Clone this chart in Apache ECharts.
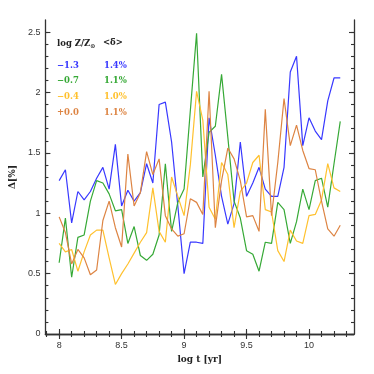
<!DOCTYPE html>
<html>
<head>
<meta charset="UTF-8" />
<script type="text/javascript" src="https://cdn.jsdelivr.net/npm/echarts@6/dist/echarts.min.js"></script>
<title>Delta vs log t</title>
<style>
	html, body { margin: 0; padding: 0; background: #fff; }
	#main { width: 374px; height: 374px; }
</style>
</head>
<body>
<div id="main"></div>
<script type="text/javascript">
	// log t [yr] sampling
	var logT = [8.00, 8.05, 8.10, 8.15, 8.20, 8.25, 8.30, 8.35, 8.40, 8.45,
		8.50, 8.55, 8.60, 8.65, 8.70, 8.75, 8.80, 8.85, 8.90, 8.95,
		9.00, 9.05, 9.10, 9.15, 9.20, 9.25, 9.30, 9.35, 9.40, 9.45,
		9.50, 9.55, 9.60, 9.65, 9.70, 9.75, 9.80, 9.85, 9.90, 9.95,
		10.00, 10.05, 10.10, 10.15, 10.20, 10.25]

	// Delta[%] for each metallicity
	var dZm13 = [1.27, 1.36, 0.92, 1.18, 1.11, 1.18, 1.29, 1.38, 1.20, 1.57,
		1.06, 1.19, 1.10, 1.17, 1.41, 1.25, 1.90, 1.92, 1.59, 1.06,
		0.50, 0.76, 0.76, 0.75, 1.79, 1.48, 1.14, 0.91, 1.08, 1.59,
		1.14, 1.25, 1.38, 1.20, 1.14, 1.14, 1.38, 2.17, 2.30, 1.56,
		1.79, 1.68, 1.61, 1.93, 2.12, 2.12]
	var dZm07 = [0.59, 0.96, 0.47, 0.80, 0.82, 1.10, 1.27, 1.25, 1.16, 1.02,
		1.03, 0.75, 0.89, 0.65, 0.61, 0.66, 0.82, 1.41, 0.85, 1.09,
		1.20, 1.85, 2.49, 1.30, 1.67, 1.72, 2.15, 1.63, 1.10, 0.96,
		0.69, 0.66, 0.52, 0.76, 0.75, 1.09, 1.03, 0.75, 0.93, 1.20,
		1.03, 1.27, 1.29, 1.05, 1.41, 1.76]
	var dZm04 = [0.75, 0.68, 0.70, 0.52, 0.68, 0.82, 0.86, 0.86, 0.63, 0.41,
		0.50, 0.58, 0.67, 0.76, 0.84, 1.21, 0.85, 0.76, 1.30, 1.14,
		0.98, 1.40, 2.01, 1.77, 1.05, 0.95, 1.42, 1.32, 0.88, 1.18,
		1.25, 1.42, 1.48, 1.03, 1.01, 0.69, 0.60, 0.86, 0.77, 0.75,
		0.98, 0.99, 1.11, 1.41, 1.21, 1.18]
	var dZp00 = [0.97, 0.84, 0.58, 0.70, 0.63, 0.49, 0.53, 0.94, 1.10, 0.88,
		0.72, 1.49, 1.06, 1.17, 1.51, 1.32, 1.45, 0.98, 0.87, 0.81,
		0.83, 1.12, 1.09, 0.99, 2.01, 0.88, 1.27, 1.54, 1.45, 1.27,
		0.97, 0.98, 0.85, 1.86, 0.98, 1.42, 1.95, 1.56, 1.73, 1.52,
		1.37, 1.36, 1.10, 0.87, 0.81, 0.90]

	var metallicity = ['\u22121.3', '\u22120.7', '\u22120.4', '+0.0']
	var meanDelta = ['1.4%', '1.1%', '1.0%', '1.1%']
	var colors = ['#3838ff', '#36a936', '#ffc12e', '#dd8443']

	var xTicks = [8, 8.5, 9, 9.5, 10]
	var yTicks = [0, 0.5, 1, 1.5, 2, 2.5]

	var X_MIN = 7.89, X_MAX = 10.36, Y_MIN = 0, Y_MAX = 2.6

	// minor tick positions, every 0.1
	var xMinor = [], yMinor = []
	for (var k = 79; k <= 103; k++) xMinor.push(k / 10)
	for (var k = 0; k <= 25; k++) yMinor.push(k / 10)

	var frame = { color: '#333', width: 1.3 }

	function mkAxis(type, pos, ticks, len, withLine, withLabel) {
		var ax = {
			type: 'value',
			position: pos,
			min: type == 'x' ? X_MIN : Y_MIN,
			max: type == 'x' ? X_MAX : Y_MAX,
			axisLine: { show: withLine, lineStyle: frame },
			axisTick: { show: true, inside: true, length: len, customValues: ticks, lineStyle: { color: '#333', width: 1.1 } },
			axisLabel: { show: withLabel, customValues: ticks, fontSize: 9, color: '#333', fontFamily: 'Liberation Sans', margin: type == 'x' ? 7 : 5 },
			splitLine: { show: false },
			minorTick: { show: false }
		}
		return ax
	}

	var xAxes = [
		mkAxis('x', 'bottom', xTicks, 5, true, true),
		mkAxis('x', 'bottom', xMinor, 3, false, false),
		mkAxis('x', 'top', xTicks, 5, true, false),
		mkAxis('x', 'top', xMinor, 3, false, false)
	]
	xAxes[0].name = 'log t [yr]'
	xAxes[0].nameLocation = 'middle'
	xAxes[0].nameGap = 20
	xAxes[0].nameTextStyle = { fontFamily: 'DejaVu Serif', fontWeight: 'bold', fontSize: 9, color: '#222' }

	var yAxes = [
		mkAxis('y', 'left', yTicks, 5, true, true),
		mkAxis('y', 'left', yMinor, 3, false, false),
		mkAxis('y', 'right', yTicks, 5, true, false),
		mkAxis('y', 'right', yMinor, 3, false, false)
	]
	yAxes[0].name = '\u0394[%]'
	yAxes[0].nameLocation = 'middle'
	yAxes[0].nameGap = 28
	yAxes[0].nameTextStyle = { fontFamily: 'DejaVu Serif', fontWeight: 'bold', fontSize: 9, color: '#222' }

	var allData = [dZm13, dZm07, dZm04, dZp00]
	var series = []
	for (var s = 0; s < allData.length; s++) {
		var pts = []
		for (var i = 0; i < logT.length; i++) pts.push([logT[i], allData[s][i]])
		series.push({
			name: metallicity[s],
			type: 'line',
			data: pts,
			showSymbol: false,
			symbol: 'none',
			lineStyle: { color: colors[s], width: 1.2 },
			animation: false
		})
	}

	var fam = 'DejaVu Serif'
	var graphics = [
		{ type: 'text', left: 57, top: 39, style: { text: 'log Z/Z{s|\u2299}', rich: { s: { fontSize: 6, fontFamily: 'DejaVu Sans', fontWeight: 'bold', padding: [6, 0, 0, 0], fill: '#222' } }, fill: '#222', fontFamily: fam, fontWeight: 'bold', fontSize: 8.5 } },
		{ type: 'text', left: 103, top: 38, style: { text: '<\u03b4\u0304>', fill: '#222', fontFamily: fam, fontWeight: 'bold', fontSize: 8.5 } }
	]
	var rowY = [61, 76.5, 92.5, 108]
	for (var r = 0; r < metallicity.length; r++) {
		graphics.push({ type: 'text', left: 57, top: rowY[r], style: { text: metallicity[r], fill: colors[r], fontFamily: fam, fontWeight: 'bold', fontSize: 8.5 } })
		graphics.push({ type: 'text', left: 104, top: rowY[r], style: { text: meanDelta[r], fill: colors[r], fontFamily: fam, fontWeight: 'bold', fontSize: 8.5 } })
	}

	var option = {
		backgroundColor: '#fff',
		animation: false,
		grid: { left: 41, right: 20, top: 20, bottom: 40 },
		xAxis: xAxes,
		yAxis: yAxes,
		graphic: graphics,
		series: series
	}

	var myChart = echarts.init(document.getElementById('main'))
	myChart.setOption(option)
</script>
</body>
</html>
